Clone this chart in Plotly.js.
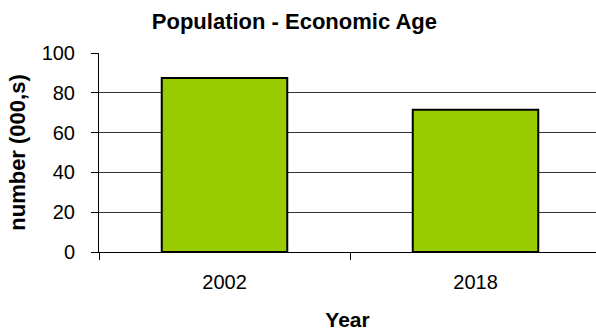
<!DOCTYPE html>
<html>
<head>
<meta charset="utf-8">
<script src="https://cdn.plot.ly/plotly-3.0.1.min.js"></script>
<style>html,body{margin:0;padding:0;background:#fff;overflow:hidden}</style>
</head>
<body>
<div id="chart" style="width:596px;height:331px"></div>
<script>
const years = ['2002', '2018'];
const population = [87.5, 71.5];
const yTicks = [0, 20, 40, 60, 80, 100];

const trace = {
  type: 'bar',
  x: years,
  y: population,
  width: 0.5,
  marker: {color: '#99CC00', line: {color: '#000000', width: 2}},
  hoverinfo: 'x+y'
};

const layout = {
  width: 596, height: 331,
  margin: {l: 99, r: 0, t: 53, b: 79},
  paper_bgcolor: '#ffffff', plot_bgcolor: '#ffffff',
  font: {family: 'Arial, "Liberation Sans", sans-serif', color: '#000000', size: 20},
  title: {text: '<b>Population - Economic Age</b>', font: {size: 22}, xref: 'container', x: 0.494, xanchor: 'center', yref: 'container', y: 0.937, yanchor: 'middle'},
  showlegend: false,
  xaxis: {
    type: 'category', range: [-0.5, 1.48],
    showline: true, linecolor: '#000', linewidth: 1,
    ticks: 'outside', tickson: 'boundaries', ticklen: 7, tickcolor: '#000',
    ticklabelstandoff: 12,
    showgrid: false, tickfont: {size: 20},
    title: {text: '<b>Year</b>', font: {size: 21}, standoff: 20}
  },
  yaxis: {
    range: [0, 100], tickvals: yTicks, ticktext: yTicks.map(String),
    showline: true, linecolor: '#000', linewidth: 1,
    ticks: 'outside', ticklen: 7, tickcolor: '#000',
    ticklabelstandoff: 12,
    showgrid: true, gridcolor: '#333', gridwidth: 1, zeroline: false,
    tickfont: {size: 20},
    title: {text: '<b>number (000,s)</b>', font: {size: 22}, standoff: 9}
  },
  bargap: 0.5
};

Plotly.newPlot('chart', [trace], layout, {displayModeBar: false, staticPlot: true});
</script>
</body>
</html>
